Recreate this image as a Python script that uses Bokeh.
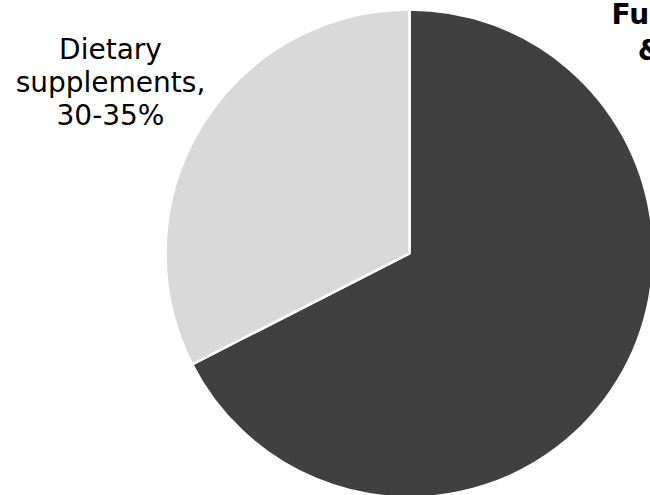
import math
from bokeh.plotting import figure
from bokeh.models import Range1d, Label, ColumnDataSource
from bokeh.embed import file_html
from bokeh.resources import INLINE

# Data
categories = ["Functional foods & beverages", "Dietary supplements"]
shares = [67.5, 32.5]          # midpoint of the quoted ranges
range_labels = ["65-70%", "30-35%"]
label_text = ["Functional foods\n& beverages,\n65-70%", "Dietary\nsupplements,\n30-35%"]
colors = ["#404040", "#d9d9d9"]

W, H = 650, 495
cx_px, cy_px, R = 409, 253, 244

p = figure(width=W, height=H, output_backend="svg", toolbar_location=None,
           x_range=Range1d(-cx_px, W - cx_px), y_range=Range1d(-(H - cy_px), cy_px),
           min_border=0, outline_line_color=None)
p.axis.visible = False
p.grid.visible = False
p.background_fill_color = "white"
p.border_fill_color = "white"

total = sum(shares)
starts, ends = [], []
cum = 0.0
for s in shares:
    starts.append(math.pi / 2 - cum / total * 2 * math.pi)
    cum += s
    ends.append(math.pi / 2 - cum / total * 2 * math.pi)

src = ColumnDataSource(dict(start=starts, end=ends, color=colors, cat=categories))
p.wedge(x=0, y=0, radius=R, start_angle="start", end_angle="end", direction="clock",
        fill_color="color", line_color="white", line_width=2.5, source=src)

# Labels
p.add_layout(Label(x=742 - cx_px, y=cy_px + 3, text=label_text[0], text_align="center",
                   text_baseline="top", text_font="DejaVu Sans", text_font_style="bold",
                   text_font_size="28px", text_color="black", text_line_height=1.1))
p.add_layout(Label(x=110 - cx_px, y=cy_px - 32, text=label_text[1], text_align="center",
                   text_baseline="top", text_font="DejaVu Sans", text_font_style="normal",
                   text_font_size="28px", text_color="black", text_line_height=1.0))

open("out.html", "w").write(file_html(p, INLINE))
